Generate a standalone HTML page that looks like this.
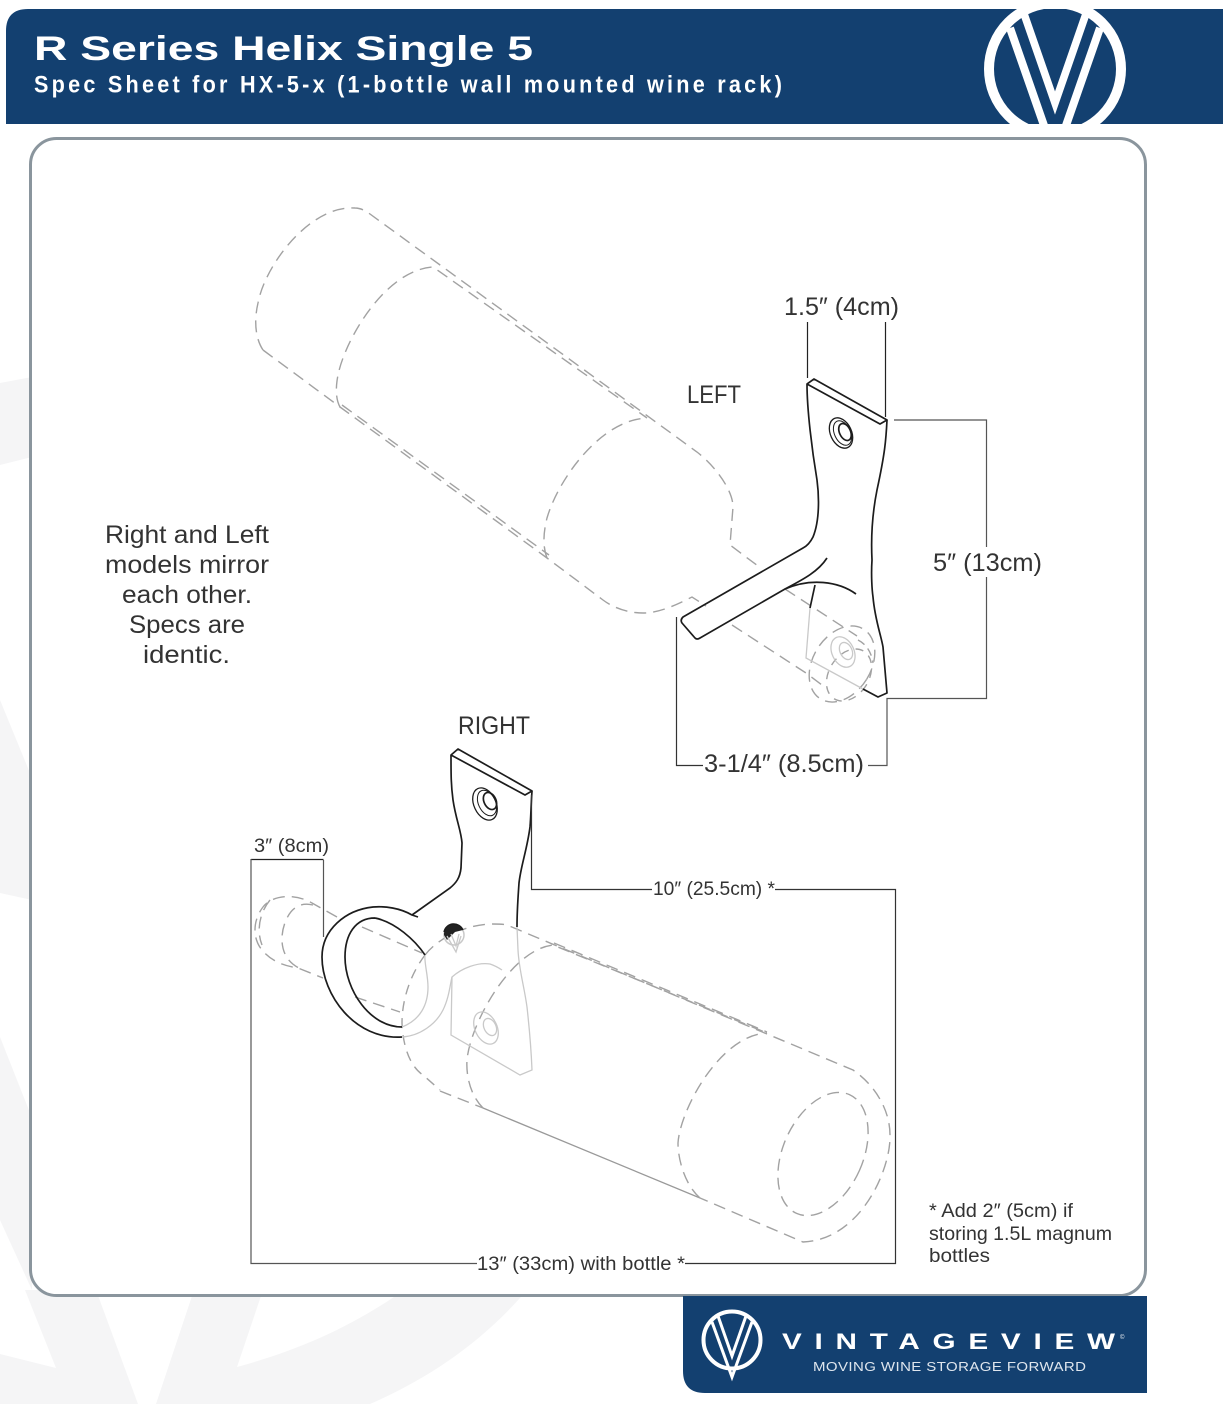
<!DOCTYPE html>
<html><head><meta charset="utf-8"><style>
html,body{margin:0;padding:0;background:#fff}
svg{display:block}
text{font-family:"Liberation Sans",sans-serif;fill:#333}
.d{fill:none;stroke:#a2a2a2;stroke-width:1.4;stroke-dasharray:12 7}
.k{fill:none;stroke:#1c1c1c;stroke-width:1.7;stroke-linejoin:round}
.g{fill:none;stroke:#c9c9c9;stroke-width:1.3}
.m{fill:none;stroke:#555;stroke-width:1.2}
</style></head><body>
<svg xmlns="http://www.w3.org/2000/svg" width="1223" height="1404" viewBox="0 0 1223 1404">
<defs><clipPath id="h"><rect x="6" y="9" width="1217" height="115"/></clipPath></defs>
<rect width="1223" height="1404" fill="#fff"/>
<!-- watermark -->
<g fill="#f5f5f6">
<path d="M0,383L32,377V457L0,465Z"/>
<path d="M0,700L32,778V900L0,893Z"/>
<path d="M0,1037L32,1118V1290L0,1220Z"/>
<path d="M25,1290L96,1290L138,1404H0V1354L56,1368Z"/>
<path d="M194,1290H263L237,1367C300,1350 355,1325 404,1290H527C480,1345 425,1380 370,1404H156Z"/>
</g>
<!-- panel -->
<rect x="30.500" y="138.500" width="1115" height="1157" rx="26" fill="#fff" stroke="#8a959d" stroke-width="3"/>
<!-- header -->
<path d="M6,124V31Q6,9 28,9H1223V124Z" fill="#134070"/>
<g clip-path="url(#h)" fill="none" stroke="#fff" stroke-linejoin="miter">
<circle cx="1055" cy="69" r="66" stroke-width="10"/>
<path d="M1010,28L1055,157L1100,28" stroke-width="8"/>
<path d="M1022,8L1055,103L1088,8" stroke-width="7.600"/>
</g>
<text x="34" y="60" font-size="34" font-weight="700" textLength="499" lengthAdjust="spacingAndGlyphs" style="fill:#fff">R Series Helix Single 5</text>
<text transform="translate(34 92.500) scale(0.9 1)" font-size="24" font-weight="700" textLength="831" lengthAdjust="spacing" style="fill:#fff">Spec Sheet for HX-5-x (1-bottle wall mounted wine rack)</text>
<!-- footer -->
<path d="M683,1296H1147V1393H705Q683,1393 683,1371Z" fill="#134070"/>
<g fill="none" stroke="#fff">
<circle cx="732" cy="1340" r="28.500" stroke-width="4"/>
<path d="M712,1322L732,1377L752,1322" stroke-width="3"/>
<path d="M718,1316L732,1356L746,1316" stroke-width="3"/>
</g>
<text transform="translate(782 1349) scale(1.35 1)" font-size="22" font-weight="700" textLength="246.700" lengthAdjust="spacing" style="fill:#fff">VINTAGEVIEW</text>
<text x="1120" y="1339" font-size="6" style="fill:#fff">©</text>
<text transform="translate(813 1371) scale(1.2 1)" font-size="12.500" textLength="227.500" lengthAdjust="spacing" style="fill:#dfe6ee">MOVING WINE STORAGE FORWARD</text>
<!-- left bottle -->
<path class="d" d="M263,350C255,338 254,320 258,303C265,265 310,205 355,208Q362,208 370,214L697,452C715,466 733,490 733,507L730,545L758,566"/>
<path class="d" d="M263,350L340,407L547,558L603,600C615,609 630,613 643,613C660,613 678,604 692,597L706,606"/>
<path class="d" d="M340,407C335,398 336,385 338,375C345,340 385,270 433,267L647,418"/>
<path class="d" d="M342,405L549,555"/>
<path class="d" d="M547,558C542,545 544,530 547,518C558,480 600,420 647,418"/>
<!-- left bracket fill -->
<path fill="#fff" d="M807,384L814,379L887,420C886,440 885,453 877,490C872,515 872,540 872,560C871,575 872,590 873,597C875,620 881,635 883,647L887,693L878,697L863,689L806,658L815,585L785,589L700,638L682,621L803,548C809,545 820,520 818,500C820,495 819,490 817,480C812,450 807,410 807,384Z"/>
<!-- neck -->
<path class="d" d="M785,589L857,636"/>
<path class="d" d="M732,625L806,673L822,685"/>
<ellipse class="d" cx="842" cy="664" rx="29" ry="41" transform="rotate(32 842 664)"/>
<ellipse class="d" cx="849" cy="675" rx="20" ry="28" transform="rotate(32 849 675)" style="stroke-dasharray:8 7"/>
<path class="d" d="M858,640C868,645 872,655 873,663" style="stroke-dasharray:8 5"/>
<path class="g" d="M810,608L806,658L863,689"/>
<ellipse class="g" cx="843" cy="652" rx="11" ry="16" transform="rotate(-25 843 652)"/>
<ellipse class="g" cx="846" cy="651" rx="6" ry="9" transform="rotate(-25 846 651)"/>
<!-- left bracket strokes -->
<path class="k" d="M807,384L814,379L887,420L880,424L807,384C807,410 812,450 817,480C819,495 820,520 813,537Q809,545 803,548L683,617Q680,620 682,623L695,638Q697,640 700,638L785,589C802,580 818,572 827,558"/>
<path class="k" d="M887,420C886,440 885,453 877,490C872,515 871,540 872,560C871,575 872,590 873,597C875,620 881,635 883,647L887,693L878,697L863,689"/>
<path class="k" d="M785,589C810,578 838,581 856,594"/>
<path class="k" d="M815,585L810,608"/>
<ellipse class="k" cx="841" cy="433" rx="10.500" ry="16" transform="rotate(-25 841 433)" style="stroke-width:1.300"/>
<ellipse class="k" cx="842.500" cy="433" rx="8" ry="13" transform="rotate(-25 842.500 433)" style="stroke-width:1"/>
<ellipse class="k" cx="845" cy="432" rx="5.500" ry="9" transform="rotate(-25 845 432)"/>
<!-- left dims -->
<path class="m" style="stroke:#222" d="M807.500,322V378M885.500,322V417"/>
<path class="m" d="M894,420H986.500V547M986.500,577V698.500H887V765.500H868"/>
<path class="m" style="stroke:#333" d="M676.500,617V765.500H703"/>
<!-- right bottle & neck -->
<path class="d" d="M337,917L312,903C295,893 272,895 263,907C253,920 252,938 262,950C272,962 285,966 298,968L323,978"/>
<path class="d" d="M313,905C300,902 292,908 287,918C281,930 280,945 286,956C290,963 296,967 303,970"/>
<path class="d" d="M270,900C260,912 256,930 262,945"/>
<path class="d" d="M362,927L422,953"/>
<path class="d" d="M355,997L400,1012"/>
<path class="m" d="M323.500,860V937"/>
<path class="d" d="M425,955C435,942 458,926 490,924C497,924 503,924 507,925L853,1070C875,1085 890,1110 890,1135C891,1170 860,1240 803,1242L700,1198"/>
<path class="d" d="M425,955C410,975 402,1000 402,1023C403,1050 412,1068 423,1075L440,1090" style="stroke-dasharray:10 7"/>
<path class="d" d="M440,1091L483,1108"/>
<path class="d" d="M483,1108C470,1095 466,1075 467,1060C470,1025 510,950 553,945L767,1033"/>
<path class="d" d="M554,943L767,1032"/>
<path fill="none" stroke="#999" stroke-width="1.300" d="M483,1108L700,1198"/>
<path class="d" d="M700,1198C685,1185 678,1160 678,1143C680,1110 720,1035 767,1033"/>
<ellipse class="d" cx="823" cy="1154" rx="40" ry="65" transform="rotate(24 823 1154)"/>
<!-- right bracket gray -->
<path class="g" d="M402,1037C420,1036 436,1024 443,1010C449,998 450,985 452,977C462,968 478,962 490,964Q496,966 502,970"/>
<path class="g" d="M452,977L451,1035L520,1075L532,1070C531,1045 529,1025 527,1007C524,985 519,970 518,950L517,927"/>
<path class="g" d="M402,1027C420,1020 428,1005 428,987C428,975 424,962 425,955"/>
<ellipse class="g" cx="486" cy="1028" rx="11" ry="17" transform="rotate(-25 486 1028)"/>
<ellipse class="g" cx="490" cy="1027" rx="6" ry="9" transform="rotate(-25 490 1027)"/>
<circle cx="454" cy="935" r="10" fill="#fff" stroke="#c9c9c9" stroke-width="1.500"/>
<path fill="#222" d="M444,935A10,10 0 0 1 463,930L455,932L447,940Z"/>
<path class="k" d="M444,932A10,10 0 0 1 463,930" style="stroke-width:1.400"/>
<path class="g" d="M447,936L456,952L461,936M451,934L456,946L459,934"/>
<!-- right bracket black -->
<path class="k" d="M451,755L458,749L532,791L525,795L451,755C451,775 451,785 453,800C456,820 461,830 462,843L461,868C460,878 456,883 450,888L412,915L418,917M412,915C400,908 385,906 373,907C345,910 322,930 322,957C322,995 355,1040 402,1037"/>
<path class="k" d="M375,918C355,918 345,935 345,957C345,990 370,1027 402,1027M375,918C395,922 415,940 425,955"/>
<path class="k" d="M532,791C531,805 531,815 530,827C527,850 521,865 519,883C518,898 517,910 517,927"/>
<ellipse class="k" cx="485" cy="804" rx="11" ry="17" transform="rotate(-25 485 804)" style="stroke-width:1.300"/>
<ellipse class="k" cx="487" cy="803" rx="8.500" ry="13.500" transform="rotate(-25 487 803)" style="stroke-width:1"/>
<ellipse class="k" cx="490" cy="801" rx="6" ry="9" transform="rotate(-25 490 801)"/>
<!-- right dims -->
<path class="m" style="stroke:#222" d="M251,859.500H323.500"/>
<path class="m" style="stroke:#555" d="M251,859V1263.500H477"/>
<path class="m" style="stroke:#333" d="M685,1263.500H895.500V889.500H775M652,889.500H531.500V795"/>
<!-- labels -->
<g font-size="25">
<text x="784" y="315" textLength="115" lengthAdjust="spacingAndGlyphs">1.5″ (4cm)</text>
<text x="687" y="403" textLength="54" lengthAdjust="spacingAndGlyphs">LEFT</text>
<text x="933" y="571" textLength="109" lengthAdjust="spacingAndGlyphs">5″ (13cm)</text>
<text x="704" y="772" textLength="160" lengthAdjust="spacingAndGlyphs">3-1/4″ (8.5cm)</text>
<text x="458" y="734" textLength="72" lengthAdjust="spacingAndGlyphs">RIGHT</text>
<text x="105" y="543" textLength="164" lengthAdjust="spacingAndGlyphs">Right and Left</text>
<text x="105" y="573" textLength="164" lengthAdjust="spacingAndGlyphs">models mirror</text>
<text x="122" y="603" textLength="130" lengthAdjust="spacingAndGlyphs">each other.</text>
<text x="129" y="633" textLength="116" lengthAdjust="spacingAndGlyphs">Specs are</text>
<text x="143" y="663" textLength="87" lengthAdjust="spacingAndGlyphs">identic.</text>
</g>
<g font-size="19.500">
<text x="254" y="852" textLength="75" lengthAdjust="spacingAndGlyphs">3″ (8cm)</text>
<text x="653" y="895" textLength="122" lengthAdjust="spacingAndGlyphs">10″ (25.5cm) *</text>
<text x="477" y="1270" textLength="208" lengthAdjust="spacingAndGlyphs">13″ (33cm) with bottle *</text>
<text x="929" y="1217" textLength="144" lengthAdjust="spacingAndGlyphs">* Add 2″ (5cm) if</text>
<text x="929" y="1240" textLength="183" lengthAdjust="spacingAndGlyphs">storing 1.5L magnum</text>
<text x="929" y="1262" textLength="61" lengthAdjust="spacingAndGlyphs">bottles</text>
</g>
</svg>
</body></html>
